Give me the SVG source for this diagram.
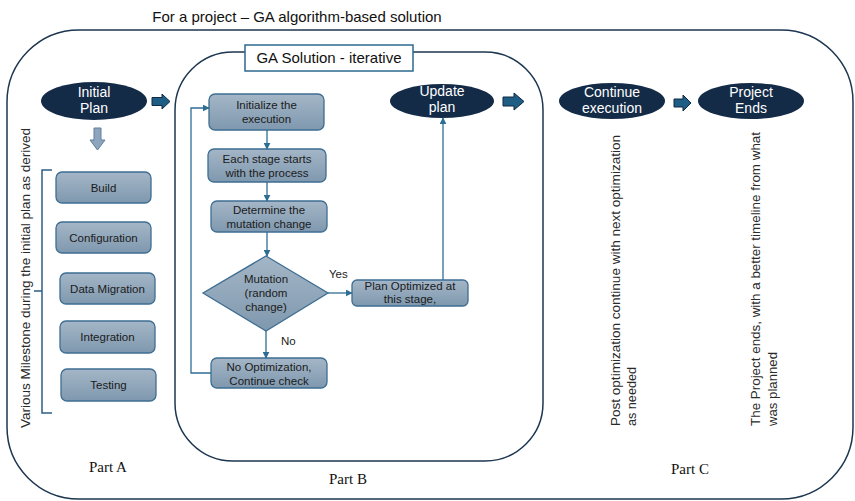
<svg xmlns="http://www.w3.org/2000/svg" width="855" height="501" viewBox="0 0 855 501">
  <defs>
    <linearGradient id="boxFill" x1="0" y1="0" x2="0" y2="1">
      <stop offset="0" stop-color="#a4b6c7"/>
      <stop offset="1" stop-color="#7f98ae"/>
    </linearGradient>
    <marker id="tip" viewBox="0 0 10 10" refX="9" refY="5" markerWidth="7" markerHeight="7" markerUnits="userSpaceOnUse" orient="auto">
      <path d="M0,0 L10,5 L0,10 z" fill="#2e6d94"/>
    </marker>
  </defs>
  <style>
    .frame { fill: none; stroke: #1c3650; stroke-width: 1.5; }
    .oval { fill: #132b47; }
    .ovalText { font-family: "Liberation Sans", Arial, sans-serif; font-size: 14px; fill: #ffffff; text-anchor: middle; }
    .box { fill: url(#boxFill); stroke: #3e6e92; stroke-width: 1.3; }
    .boxText { font-family: "Liberation Sans", Arial, sans-serif; font-size: 11.5px; fill: #1b1b1b; text-anchor: middle; }
    .note { font-family: "Liberation Sans", Arial, sans-serif; font-size: 13px; fill: #2a2a2a; }
    .part { font-family: "Liberation Serif", "Times New Roman", serif; font-size: 15px; fill: #111111; text-anchor: middle; }
    .link { fill: none; stroke: #2e6d94; stroke-width: 1.3; }
    .blockArrow { fill: #1e5d84; stroke: #0f2b45; stroke-width: 1; }
    .softArrow { fill: #8ea6bd; stroke: #5f7f9b; stroke-width: 1; }
    .label { font-family: "Liberation Sans", Arial, sans-serif; font-size: 11.5px; fill: #1b1b1b; }
  </style>

  <!-- heading -->
  <text x="297" y="22" font-family="Liberation Sans, Arial, sans-serif" font-size="15" fill="#111" text-anchor="middle">For a project – GA algorithm-based solution</text>

  <!-- outer frame and iterative frame -->
  <rect class="frame" x="7" y="30" width="846" height="469" rx="72" ry="72"/>
  <rect class="frame" x="175" y="52" width="368" height="409" rx="58" ry="58"/>
  <g id="ga-title">
    <rect x="245" y="45" width="168" height="26" fill="#ffffff" stroke="#2d6a8e" stroke-width="1.5"/>
    <text x="329" y="63" font-family="Liberation Sans, Arial, sans-serif" font-size="15" fill="#111" text-anchor="middle">GA Solution - iterative</text>
  </g>

  <!-- milestone ovals -->
  <g id="initial-plan">
    <ellipse class="oval" cx="94" cy="101" rx="53" ry="19"/>
    <text class="ovalText" x="94" y="97">Initial</text>
    <text class="ovalText" x="94" y="113">Plan</text>
  </g>
  <g id="update-plan">
    <ellipse class="oval" cx="442" cy="101" rx="52" ry="17"/>
    <text class="ovalText" x="442" y="96">Update</text>
    <text class="ovalText" x="442" y="112">plan</text>
  </g>
  <g id="continue-execution">
    <ellipse class="oval" cx="612" cy="101" rx="53" ry="18"/>
    <text class="ovalText" x="612" y="97">Continue</text>
    <text class="ovalText" x="612" y="113">execution</text>
  </g>
  <g id="project-ends">
    <ellipse class="oval" cx="751" cy="101" rx="53" ry="18"/>
    <text class="ovalText" x="751" y="97">Project</text>
    <text class="ovalText" x="751" y="113">Ends</text>
  </g>

  <!-- Part A milestones -->
  <g id="build">
    <rect class="box" x="56" y="172" width="95" height="31" rx="6"/>
    <text class="boxText" x="103.5" y="191.5">Build</text>
  </g>
  <g id="configuration">
    <rect class="box" x="56" y="222" width="95" height="31" rx="6"/>
    <text class="boxText" x="103.5" y="241.5">Configuration</text>
  </g>
  <g id="data-migration">
    <rect class="box" x="60" y="273" width="95" height="31" rx="6"/>
    <text class="boxText" x="107.5" y="292.5">Data Migration</text>
  </g>
  <g id="integration">
    <rect class="box" x="60" y="321" width="95" height="32" rx="6"/>
    <text class="boxText" x="107.5" y="341">Integration</text>
  </g>
  <g id="testing">
    <rect class="box" x="61" y="369" width="95" height="32" rx="6"/>
    <text class="boxText" x="108.5" y="389">Testing</text>
  </g>

  <!-- Part B flow -->
  <g id="initialize">
    <rect class="box" x="209" y="94" width="115" height="36" rx="6"/>
    <text class="boxText" x="266.5" y="109">Initialize the</text>
    <text class="boxText" x="266.5" y="123">execution</text>
  </g>
  <g id="each-stage">
    <rect class="box" x="208" y="149" width="118" height="33" rx="6"/>
    <text class="boxText" x="267" y="163">Each stage starts</text>
    <text class="boxText" x="267" y="177">with the process</text>
  </g>
  <g id="determine">
    <rect class="box" x="211" y="201" width="116" height="31" rx="6"/>
    <text class="boxText" x="269" y="214">Determine the</text>
    <text class="boxText" x="269" y="228">mutation change</text>
  </g>
  <g id="mutation">
    <polygon class="box" points="266,256 328,293 266,331 203,293"/>
    <text class="boxText" x="266" y="283">Mutation</text>
    <text class="boxText" x="266" y="297">(random</text>
    <text class="boxText" x="266" y="311">change)</text>
  </g>
  <g id="plan-optimized">
    <rect class="box" x="352" y="280" width="116" height="26" rx="5"/>
    <text class="boxText" x="410" y="290">Plan Optimized at</text>
    <text class="boxText" x="410" y="303">this stage,</text>
  </g>
  <g id="no-optimization">
    <rect class="box" x="211" y="358" width="116" height="30" rx="6"/>
    <text class="boxText" x="269" y="371">No Optimization,</text>
    <text class="boxText" x="269" y="385">Continue check</text>
  </g>

  <!-- connectors -->
  <g id="connectors">
    <path class="link" d="M267,130 V149" marker-end="url(#tip)"/>
    <path class="link" d="M267,182 V201" marker-end="url(#tip)"/>
    <path class="link" d="M267,232 V256" marker-end="url(#tip)"/>
    <path class="link" d="M266,331 V358" marker-end="url(#tip)"/>
    <path class="link" d="M328,293 H352" marker-end="url(#tip)"/>
    <path class="link" d="M443,280 V118" marker-end="url(#tip)"/>
    <path class="link" d="M211,373 H191 V108 H209" marker-end="url(#tip)"/>
    <text class="label" x="329" y="278">Yes</text>
    <text class="label" x="281" y="345">No</text>

    <!-- block arrows between stages -->
    <path class="blockArrow" d="M152,97.5 H162 V94 L170,101.5 L162,109 V105.5 H152 z"/>
    <path class="blockArrow" d="M503,97 H514 V93 L524,101.5 L514,110 V106 H503 z"/>
    <path class="blockArrow" d="M674,99 H683 V95 L691,103 L683,111 V107 H674 z"/>
    <path class="softArrow" d="M94,128 H101 V140 H105 L97.5,150 L90,140 H94 z"/>

    <!-- milestone bracket -->
    <path d="M52,170 H42 V413 H52 M42,291 H34" fill="none" stroke="#2d5f85" stroke-width="1.5"/>
  </g>

  <!-- rotated notes -->
  <text class="note" transform="translate(30,428) rotate(-90)" font-size="13.5" textLength="300" lengthAdjust="spacingAndGlyphs">Various Milestone during the initial plan as derived</text>
  <text class="note" transform="translate(620,426) rotate(-90)" textLength="291" lengthAdjust="spacingAndGlyphs">Post optimization continue with next optimization</text>
  <text class="note" transform="translate(636,426) rotate(-90)" textLength="59" lengthAdjust="spacingAndGlyphs">as needed</text>
  <text class="note" transform="translate(760,426) rotate(-90)" textLength="294" lengthAdjust="spacingAndGlyphs">The  Project ends, with a better timeline from what</text>
  <text class="note" transform="translate(777,426) rotate(-90)" textLength="74" lengthAdjust="spacingAndGlyphs">was planned</text>

  <!-- part captions -->
  <text class="part" x="108" y="472">Part A</text>
  <text class="part" x="348" y="484">Part B</text>
  <text class="part" x="690" y="474">Part C</text>
</svg>
